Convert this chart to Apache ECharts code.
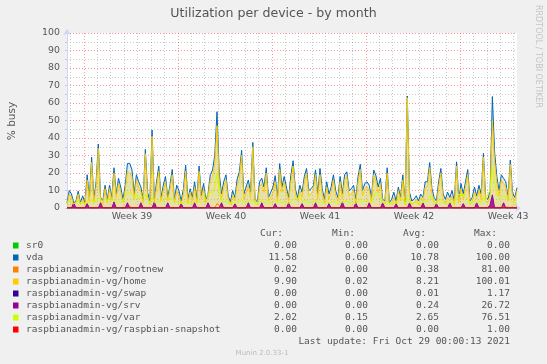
<!DOCTYPE html>
<html><head><meta charset="utf-8">
<script src="https://cdn.jsdelivr.net/npm/echarts@6/dist/echarts.min.js"></script>
<style>html,body{margin:0;padding:0;background:#f0f0f0}#c{width:547px;height:364px}</style>
</head><body><div id="c"></div>
<script>
// ---- time axis (hours since Sat 25 Sep 2021 18:00), samples every 4 hours ----
const STEP_HOURS = 4;
const HOURS_TOTAL = 804;
const weekStartHours = [30, 198, 366, 534, 702];           // Mondays 00:00
const weekLabelHours = [116, 284, 452, 620, 788];
const weekLabels = ['Week 39', 'Week 40', 'Week 41', 'Week 42', 'Week 43'];
const yTicks = [0, 10, 20, 30, 40, 50, 60, 70, 80, 90, 100];

// ---- series (values, % busy) ----
const seriesNames = ['sr0', 'vda', 'raspbianadmin-vg/rootnew', 'raspbianadmin-vg/home',
  'raspbianadmin-vg/swap', 'raspbianadmin-vg/srv', 'raspbianadmin-vg/var', 'raspbianadmin-vg/raspbian-snapshot'];
const seriesColors = ['#00cc00', '#0066b3', '#ff8000', '#ffcc00', '#330099', '#990099', '#ccff00', '#ff0000'];

const vda = [
  3, 10, 8, 3, 4, 9.6, 3, 7, 3, 19, 6, 29,
  5, 15, 36.5, 6, 4, 13, 5, 13, 6, 23, 8, 17,
  12, 5, 13, 25.5, 25.5, 22, 8, 19, 15, 12, 5, 33.5,
  9, 4, 44.6, 5, 15, 24, 6, 13, 18, 6, 13, 22,
  5, 13, 10, 4, 11, 24.5, 5, 11, 6, 15, 5, 24,
  7, 14, 5, 8, 19, 21.7, 30, 55, 20, 8, 15, 19,
  7, 3.5, 10, 6, 16.5, 20.7, 33, 8, 12, 16, 9, 37.5,
  5, 3.5, 15, 17, 12, 23, 6, 9, 12, 18.5, 6, 25.4,
  12, 18, 12, 6, 18.8, 27, 11, 6, 13, 9, 18, 22.6,
  10, 11, 12.6, 21.8, 8, 22.6, 11, 5, 15, 8, 12, 19,
  10, 6, 18, 8, 19, 20.7, 10, 11, 13, 5, 18, 25,
  10, 14, 15, 13, 6, 21.7, 18.4, 12, 17, 5, 4, 23,
  3, 5, 9, 4, 12, 6, 19, 3, 64, 9, 4, 5,
  7, 4, 8, 6, 15, 15, 26, 11, 6, 4, 15, 22.6,
  8, 5, 9, 6, 10, 4, 26.4, 5, 14, 8, 15, 22,
  4, 6, 12, 7, 13, 8, 31.2, 6, 5, 10, 63.7, 32,
  18, 10, 19, 17, 15, 6, 27.4, 9, 6, 11.6
];
const home = [
  2, 8, 6, 2, 3, 8, 2, 5, 2, 16, 4, 26,
  3, 12, 34, 4, 2, 11, 3, 11, 4, 20, 6, 14,
  9, 3, 10, 21, 20, 18, 5, 16, 12, 9, 3, 31,
  6, 2, 41, 3, 12, 21, 4, 10, 15, 4, 11, 19,
  3, 10, 7, 2, 8, 21, 3, 9, 4, 12, 3, 21,
  5, 11, 3, 6, 16, 18, 25, 47, 15, 5, 12, 16,
  5, 2, 7, 4, 13, 17, 30, 5, 9, 13, 6, 35,
  3, 2, 12, 14, 9, 20, 4, 6, 9, 15, 4, 22,
  9, 15, 9, 4, 15, 24, 8, 4, 10, 6, 15, 20,
  7, 8, 10, 19, 5, 19, 8, 3, 12, 5, 9, 16,
  7, 4, 15, 5, 16, 18, 7, 8, 10, 3, 15, 22,
  7, 11, 12, 10, 4, 19, 15, 9, 14, 3, 2, 20,
  2, 3, 6, 2, 10, 4, 16, 2, 63, 6, 2, 3,
  5, 2, 6, 4, 12, 12, 23, 8, 4, 2, 12, 20,
  5, 3, 6, 4, 7, 2, 24, 3, 11, 5, 12, 19,
  2, 4, 9, 5, 10, 5, 29, 4, 3, 7, 50, 26,
  14, 7, 16, 14, 12, 4, 25, 6, 4, 9.9
];
const varLv = [
  3, 4, 3, 2.5, 3, 4, 3, 3, 2.5, 4, 3, 5,
  3, 4, 5.5, 5, 4, 5, 4, 5.5, 4, 5, 3, 4,
  3.5, 4, 7, 8.5, 9, 8, 6, 8, 5, 6, 7, 7.5,
  5, 3, 6, 3, 3.5, 4, 3, 4, 5.5, 5, 5.5, 5,
  4, 3.5, 3, 2.5, 3, 4, 2.5, 3, 3, 4, 3, 4,
  3, 4, 6, 8, 9, 8.5, 12, 20, 9, 4, 3.5, 4,
  3, 2.5, 3, 2.5, 3.5, 4, 5, 3, 3.5, 4, 3, 5,
  2.5, 2.5, 3.5, 4, 3, 4, 2.5, 3, 3.5, 4, 3, 4,
  3, 4, 3, 2.5, 3.5, 5, 6, 5.5, 6, 4, 4, 4.5,
  3, 3.5, 3.5, 4.5, 3, 4.5, 3, 2.5, 3.5, 3, 3.5, 4,
  3, 2.5, 3.5, 3, 4, 4, 3, 3, 3.5, 2.5, 4, 5,
  3.5, 4, 4, 3.5, 3, 6, 9, 8, 6, 3, 2.5, 4,
  2.5, 2.5, 3, 2.5, 4, 6, 5, 2.5, 6, 3, 2.5, 3,
  3, 2.5, 3, 3, 4, 4, 7, 5, 3, 2.5, 4, 5,
  3, 2.5, 3, 3, 3.5, 3, 6, 8, 7, 8, 6, 5,
  2.5, 3, 4, 3, 4, 3, 6, 4, 8, 10, 23, 14,
  8, 5, 6, 7, 6, 7, 5, 3.5, 3, 2
];
const srv = [
  0, 0, 0, 3, 0, 0,  0, 0, 0, 2.5, 0, 0,  0, 0, 0, 3, 0, 0,  0, 0, 0, 3.5, 0, 0,
  0, 0, 0, 3, 0, 0,  0, 0, 0, 3, 0, 0,  0, 0, 0, 3.5, 0, 0,  0, 0, 0, 3, 0, 0,
  0, 0, 0, 2.5, 0, 0,  0, 0, 0, 3, 0, 0,  0, 0, 0, 3, 0, 0,  0, 0, 0, 3, 0, 0,
  0, 0, 0, 2.5, 0, 0,  0, 0, 0, 3, 0, 0,  0, 0, 0, 3, 0, 0,  0, 0, 0, 2.5, 0, 0,
  0, 0, 0, 3, 0, 0,  0, 0, 0, 2.5, 0, 0,  0, 0, 0, 3, 0, 0,  0, 0, 0, 2.5, 0, 0,
  0, 0, 0, 3.5, 0, 0,  0, 0, 0, 3, 0, 0,  0, 0, 0, 3, 0, 0,  0, 0, 0, 3, 0, 0,
  0, 0, 0, 2.5, 0, 0,  0, 0, 0, 3, 0, 0,  0, 0, 0, 3, 0, 0,  0, 0, 0, 2.5, 0, 0,
  0, 0, 0, 3, 0, 0,  0, 0, 0, 2.5, 0, 0,  0, 0, 0, 3, 0, 0,  0, 0, 0, 2, 7.5, 0,
  0, 0, 0, 3, 0, 0,  0, 0, 0, 0
];
// sparse samples [sampleIndex, value] for the (nearly) flat series
const rootnew = [[0, 0], [27, 0], [28, 1], [29, 0], [66, 0], [67, 2.5], [68, 1.5], [69, 0],
  [192, 0], [193, 0.5], [194, 0.2], [195, 0.8], [196, 0.3], [197, 0.5], [198, 0.2], [199, 0.6], [200, 0], [201, 0]];
const sr0 = [[0, 0], [201, 0]];
const swap = [[0, 0], [201, 0]];
const snapshot = [[0, 0], [201, 0]];

// ---- legend statistics ----
const curVals = [0.00, 11.58, 0.02, 9.90, 0.00, 0.00, 2.02, 0.00];
const minVals = [0.00, 0.60, 0.00, 0.02, 0.00, 0.00, 0.15, 0.00];
const avgVals = [0.00, 10.78, 0.38, 8.21, 0.01, 0.24, 2.65, 0.00];
const maxVals = [0.00, 100.00, 81.00, 100.01, 1.17, 26.72, 76.51, 1.00];
const lastUpdate = 'Last update: Fri Oct 29 00:00:13 2021';
const titleText = 'Utilization per device - by month';
const yName = '% busy';
const watermark = 'Munin 2.0.33-1';
const sideText = 'RRDTOOL / TOBI OETIKER';

// ---- build ----
const dense = arr => arr.map((v, i) => [i * STEP_HOURS, v]);
const sparse = arr => arr.map(p => [p[0] * STEP_HOURS, p[1]]);
const seriesData = [sparse(sr0), dense(vda), sparse(rootnew), dense(home), sparse(swap), dense(srv), dense(varLv), sparse(snapshot)];
// translucent fills that imitate the dense rrdtool line rendering
const fillOpacity = [0, 0.13, 0, 0.32, 0, 0.85, 0, 0];

const dayLines = [];
for (let h = 6; h < HOURS_TOTAL; h += 24) if (weekStartHours.indexOf(h) < 0) dayLines.push(h);

const FONT = 'DejaVu Sans';
const MONO = 'DejaVu Sans Mono';
const TXT = '#555555';

const series = [{
  type: 'line', data: [], z: 1, silent: true,
  markLine: {
    silent: true, z: 1, symbol: ['none', 'none'], label: { show: false }, animation: false,
    data: dayLines.map(h => ({ xAxis: h, lineStyle: { color: 'rgba(140,140,140,0.45)', type: [1, 2], width: 1 } }))
      .concat(weekStartHours.map(h => ({ xAxis: h, lineStyle: { color: 'rgba(255,0,0,0.4)', type: [1, 2], width: 1 } })))
  }
}];
seriesNames.forEach((n, k) => series.push({
  type: 'line', name: n, data: seriesData[k], symbol: 'none', showSymbol: false, z: 2,
  lineStyle: { width: 1, color: seriesColors[k] }, itemStyle: { color: seriesColors[k] },
  areaStyle: fillOpacity[k] > 0 ? { color: seriesColors[k], opacity: fillOpacity[k] } : undefined
}));

const graphic = [];
const rowY0 = 245.7, rowH = 12;
const colRight = [297, 368, 439, 510];
const heads = ['Cur:', 'Min:', 'Avg:', 'Max:'];
const headRight = [283, 355, 426, 497];
heads.forEach((h, j) => graphic.push({ type: 'text', x: headRight[j], y: 234,
  style: { text: h, font: '9.5px "' + MONO + '"', fill: TXT, align: 'right', verticalAlign: 'middle' } }));
const stats = [curVals, minVals, avgVals, maxVals];
seriesNames.forEach((n, k) => {
  const y = rowY0 + k * rowH;
  graphic.push({ type: 'rect', shape: { x: 13, y: y - 3.2, width: 5.5, height: 6 }, style: { fill: seriesColors[k] } });
  graphic.push({ type: 'text', x: 26, y: y, style: { text: n, font: '9.5px "' + MONO + '"', fill: TXT, align: 'left', verticalAlign: 'middle' } });
  stats.forEach((arr, j) => graphic.push({ type: 'text', x: colRight[j], y: y,
    style: { text: arr[k].toFixed(2), font: '9.5px "' + MONO + '"', fill: TXT, align: 'right', verticalAlign: 'middle' } }));
});
graphic.push({ type: 'text', x: 510, y: 341.7, style: { text: lastUpdate, font: '9.5px "' + MONO + '"', fill: TXT, align: 'right', verticalAlign: 'middle' } });
graphic.push({ type: 'text', x: 262, y: 353, style: { text: watermark, font: '7px "' + FONT + '"', fill: '#bbbbbb', align: 'center', verticalAlign: 'middle' } });
graphic.push({ type: 'text', x: 538.5, y: 56.5, rotation: -Math.PI / 2, style: { text: sideText, font: '8px "' + FONT + '"', fill: '#c4c4c4', align: 'center', verticalAlign: 'middle' } });
graphic.push({ type: 'text', x: 12, y: 121, rotation: Math.PI / 2, style: { text: yName, font: '10.5px "' + FONT + '"', fill: TXT, align: 'center', verticalAlign: 'middle' } });
graphic.push({ type: 'text', x: 273.5, y: 13.5, style: { text: titleText, font: '12.6px "' + FONT + '"', fill: TXT, align: 'center', verticalAlign: 'middle' } });

const chart = echarts.init(document.getElementById('c'), null, { renderer: 'canvas' });
chart.setOption({
  animation: false,
  backgroundColor: '#f0f0f0',
  grid: { left: 67, right: 30, top: 33, bottom: 156, show: true, backgroundColor: '#ffffff', borderWidth: 0 },
  xAxis: {
    type: 'value', min: 0, max: HOURS_TOTAL,
    axisLine: { show: true, lineStyle: { color: '#cfd6f8', width: 1 }, symbol: ['none', 'arrow'], symbolSize: [6, 6], symbolOffset: [0, 4] },
    axisTick: { show: false }, splitLine: { show: false },
    axisLabel: { customValues: weekLabelHours, formatter: v => weekLabels[weekLabelHours.indexOf(v)] || '',
      color: TXT, fontSize: 9.4, fontFamily: FONT, margin: 4 }
  },
  yAxis: {
    type: 'value', min: yTicks[0], max: yTicks[yTicks.length - 1], interval: yTicks[1] - yTicks[0],
    axisLine: { show: true, lineStyle: { color: '#cfd6f8', width: 1 }, symbol: ['none', 'arrow'], symbolSize: [6, 6], symbolOffset: [0, 4] },
    axisTick: { show: true, length: 2, lineStyle: { color: '#c8c8d8' } },
    minorTick: { show: true, splitNumber: 2, length: 2, lineStyle: { color: '#c8c8d8' } },
    axisLabel: { color: TXT, fontSize: 9.4, fontFamily: FONT, margin: 7 },
    splitLine: { show: true, lineStyle: { color: 'rgba(255,0,0,0.4)', type: [1, 2], width: 1 } },
    minorSplitLine: { show: true, lineStyle: { color: 'rgba(140,140,140,0.45)', type: [1, 2], width: 1 } }
  },
  series: series,
  graphic: graphic
});
</script></body></html>
